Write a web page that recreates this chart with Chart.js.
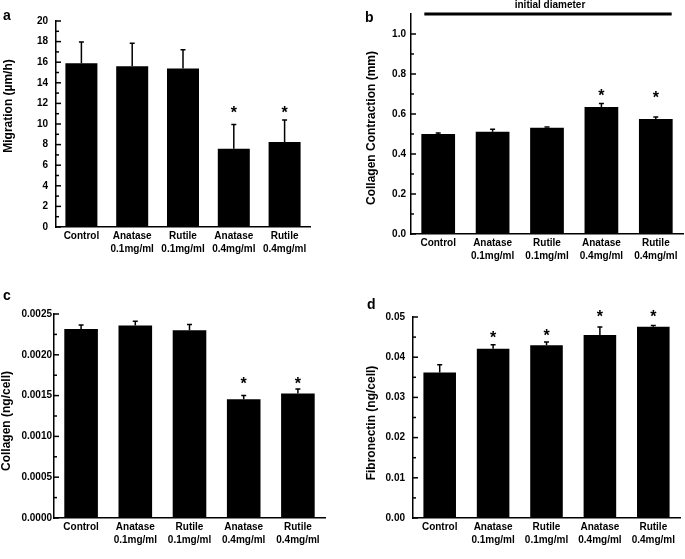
<!DOCTYPE html>
<html>
<head>
<meta charset="utf-8">
<script src="https://cdn.jsdelivr.net/npm/chart.js@4.4.1/dist/chart.umd.min.js"></script>
<style>
  body { margin: 0; background: #fff; }
  #wrap { position: relative; width: 685px; height: 559px; }
  canvas { position: absolute; }
</style>
</head>
<body>
<div id="wrap">
  <canvas id="chartA" width="340" height="280" style="left:0;top:0"></canvas>
  <canvas id="chartB" width="345" height="280" style="left:340px;top:0"></canvas>
  <canvas id="chartC" width="340" height="279" style="left:0;top:280px"></canvas>
  <canvas id="chartD" width="345" height="279" style="left:340px;top:280px"></canvas>
</div>
<script>
var categories = [['Control'], ['Anatase', '0.1mg/ml'], ['Rutile', '0.1mg/ml'], ['Anatase', '0.4mg/ml'], ['Rutile', '0.4mg/ml']];

// a - migration
var migration = [15.9, 15.6, 15.4, 7.6, 8.25];
var migrationErr = [2.05, 2.25, 1.8, 2.35, 2.15];
var migrationStars = [null, null, null, 11.5, 11.5];

// b - collagen contraction
var contraction = [0.50, 0.511, 0.531, 0.635, 0.575];
var contractionErr = [0.005, 0.013, 0.004, 0.017, 0.010];
var contractionStars = [null, null, null, 0.711, 0.701];
var initialDiameter = 1.1;

// c - collagen
var collagen = [0.002316, 0.00236, 0.0023, 0.001456, 0.001525];
var collagenErr = [0.00005, 0.00005, 0.00007, 0.000045, 0.000055];
var collagenStars = [null, null, null, 0.0017, 0.0017];

// d - fibronectin
var fibronectin = [0.0362, 0.0421, 0.043, 0.0455, 0.0476];
var fibronectinErr = [0.0019, 0.001, 0.0008, 0.002, 0.0003];
var fibronectinStars = [null, 0.0458, 0.0463, 0.051, 0.051];

var FONT = "'Liberation Sans', Arial, sans-serif";

var extrasPlugin = {
  id: 'extras',
  afterDatasetsDraw: function(chart, args, o) {
    var ctx = chart.ctx;
    var y = chart.scales.y;
    var area = chart.chartArea;
    var meta = chart.getDatasetMeta(0);
    ctx.save();
    ctx.strokeStyle = '#000';
    ctx.fillStyle = '#000';
    ctx.lineWidth = 1.5;
    // error bars
    meta.data.forEach(function(bar, i) {
      var top = y.getPixelForValue(o.values[i] + o.errors[i]);
      var base = y.getPixelForValue(o.values[i]);
      ctx.beginPath();
      ctx.moveTo(bar.x, base);
      ctx.lineTo(bar.x, top);
      ctx.moveTo(bar.x - 2.5, top);
      ctx.lineTo(bar.x + 2.5, top);
      ctx.stroke();
    });
    // stars
    ctx.font = 'bold 16px ' + FONT;
    ctx.textAlign = 'center';
    ctx.textBaseline = 'alphabetic';
    meta.data.forEach(function(bar, i) {
      if (o.stars[i] == null) return;
      ctx.fillText('*', bar.x, y.getPixelForValue(o.stars[i]) + 9.5);
    });
    // inward y ticks
    var n = Math.round((y.max - y.min) / o.minorStep);
    var every = Math.round(o.majorStep / o.minorStep);
    for (var k = 0; k <= n; k++) {
      var major = k % every == 0;
      if (k == n && !major) continue;
      var py = y.getPixelForValue(y.min + k * o.minorStep);
      ctx.beginPath();
      ctx.moveTo(area.left, py);
      ctx.lineTo(area.left + (major ? 5 : 3), py);
      ctx.stroke();
    }
    // initial diameter line
    if (o.line != null) {
      var first = meta.data[0], last = meta.data[meta.data.length - 1];
      var ly = y.getPixelForValue(o.line);
      ctx.lineWidth = 3;
      ctx.beginPath();
      ctx.moveTo(first.x - first.width / 2 + 3, ly);
      ctx.lineTo(last.x + last.width / 2 - 1, ly);
      ctx.stroke();
      ctx.font = 'bold 10px ' + FONT;
      ctx.textBaseline = 'middle';
      ctx.fillText('initial diameter', (first.x + last.x) / 2 + 3, 5.5);
    }
    // axis title
    ctx.save();
    ctx.font = 'bold 12px ' + FONT;
    ctx.textAlign = 'center';
    ctx.textBaseline = 'middle';
    ctx.translate(o.title.x, o.title.y);
    ctx.rotate(-Math.PI / 2);
    ctx.fillText(o.title.text, 0, 0);
    ctx.restore();
    // panel letter
    ctx.font = 'bold 14px ' + FONT;
    ctx.textAlign = 'left';
    ctx.textBaseline = 'alphabetic';
    ctx.fillText(o.letter.text, o.letter.x, o.letter.y);
    ctx.restore();
  }
};

function makeChart(id, p) {
  var canvas = document.getElementById(id);
  var W = canvas.width, H = canvas.height;
  return new Chart(canvas, {
    type: 'bar',
    data: {
      labels: categories,
      datasets: [{
        data: p.values,
        backgroundColor: '#000',
        borderWidth: 0,
        barPercentage: p.barPct,
        categoryPercentage: 1
      }]
    },
    options: {
      responsive: false,
      animation: false,
      layout: { padding: { left: 0, top: p.area.top, right: W - p.area.right, bottom: 0 } },
      plugins: {
        legend: { display: false },
        tooltip: { enabled: false },
        extras: {
          values: p.values, errors: p.errors, stars: p.stars,
          minorStep: p.minorStep, majorStep: p.majorStep,
          title: p.title, letter: p.letter, line: p.line
        }
      },
      scales: {
        x: {
          grid: { display: true, drawOnChartArea: false, drawTicks: false },
          border: { display: true, color: '#000', width: 1.5 },
          ticks: {
            color: '#000', padding: 3, maxRotation: 0, autoSkip: false,
            font: { family: FONT, size: 10, weight: 'bold', lineHeight: 1.3 }
          },
          afterFit: function(s) { s.height = H - p.area.bottom; }
        },
        y: {
          min: 0, max: p.max,
          grid: { display: true, drawOnChartArea: false, drawTicks: false },
          border: { display: true, color: '#000', width: 1.5 },
          ticks: {
            stepSize: p.majorStep, includeBounds: false, color: '#000', padding: p.tickPad,
            font: { family: FONT, size: 10, weight: 'bold' },
            callback: function(v) { return Number(v).toFixed(p.decimals); }
          },
          afterFit: function(s) { s.width = p.area.left; }
        }
      }
    },
    plugins: [extrasPlugin]
  });
}

makeChart('chartA', {
  values: migration, errors: migrationErr, stars: migrationStars,
  area: { left: 56, top: 21, right: 310, bottom: 227 },
  max: 20, majorStep: 2, minorStep: 1, decimals: 0, tickPad: 8, barPct: 0.63,
  title: { text: 'Migration (µm/h)', x: 9, y: 106 },
  letter: { text: 'a', x: 3, y: 20 }
});

makeChart('chartB', {
  values: contraction, errors: contractionErr, stars: contractionStars, line: initialDiameter,
  area: { left: 71, top: 14, right: 343, bottom: 234 },
  max: 1.1, majorStep: 0.2, minorStep: 0.1, decimals: 1, tickPad: 5, barPct: 0.62,
  title: { text: 'Collagen Contraction (mm)', x: 32, y: 128 },
  letter: { text: 'b', x: 25, y: 22 }
});

makeChart('chartC', {
  values: collagen, errors: collagenErr, stars: collagenStars,
  area: { left: 54, top: 34, right: 325, bottom: 238 },
  max: 0.0025, majorStep: 0.0005, minorStep: 0.00025, decimals: 4, tickPad: 2, barPct: 0.62,
  title: { text: 'Collagen (ng/cell)', x: 7, y: 141 },
  letter: { text: 'c', x: 3, y: 20 }
});

makeChart('chartD', {
  values: fibronectin, errors: fibronectinErr, stars: fibronectinStars,
  area: { left: 73, top: 37, right: 340, bottom: 238 },
  max: 0.05, majorStep: 0.01, minorStep: 0.005, decimals: 2, tickPad: 8, barPct: 0.61,
  title: { text: 'Fibronectin (ng/cell)', x: 32, y: 143 },
  letter: { text: 'd', x: 27, y: 29 }
});
</script>
</body>
</html>
